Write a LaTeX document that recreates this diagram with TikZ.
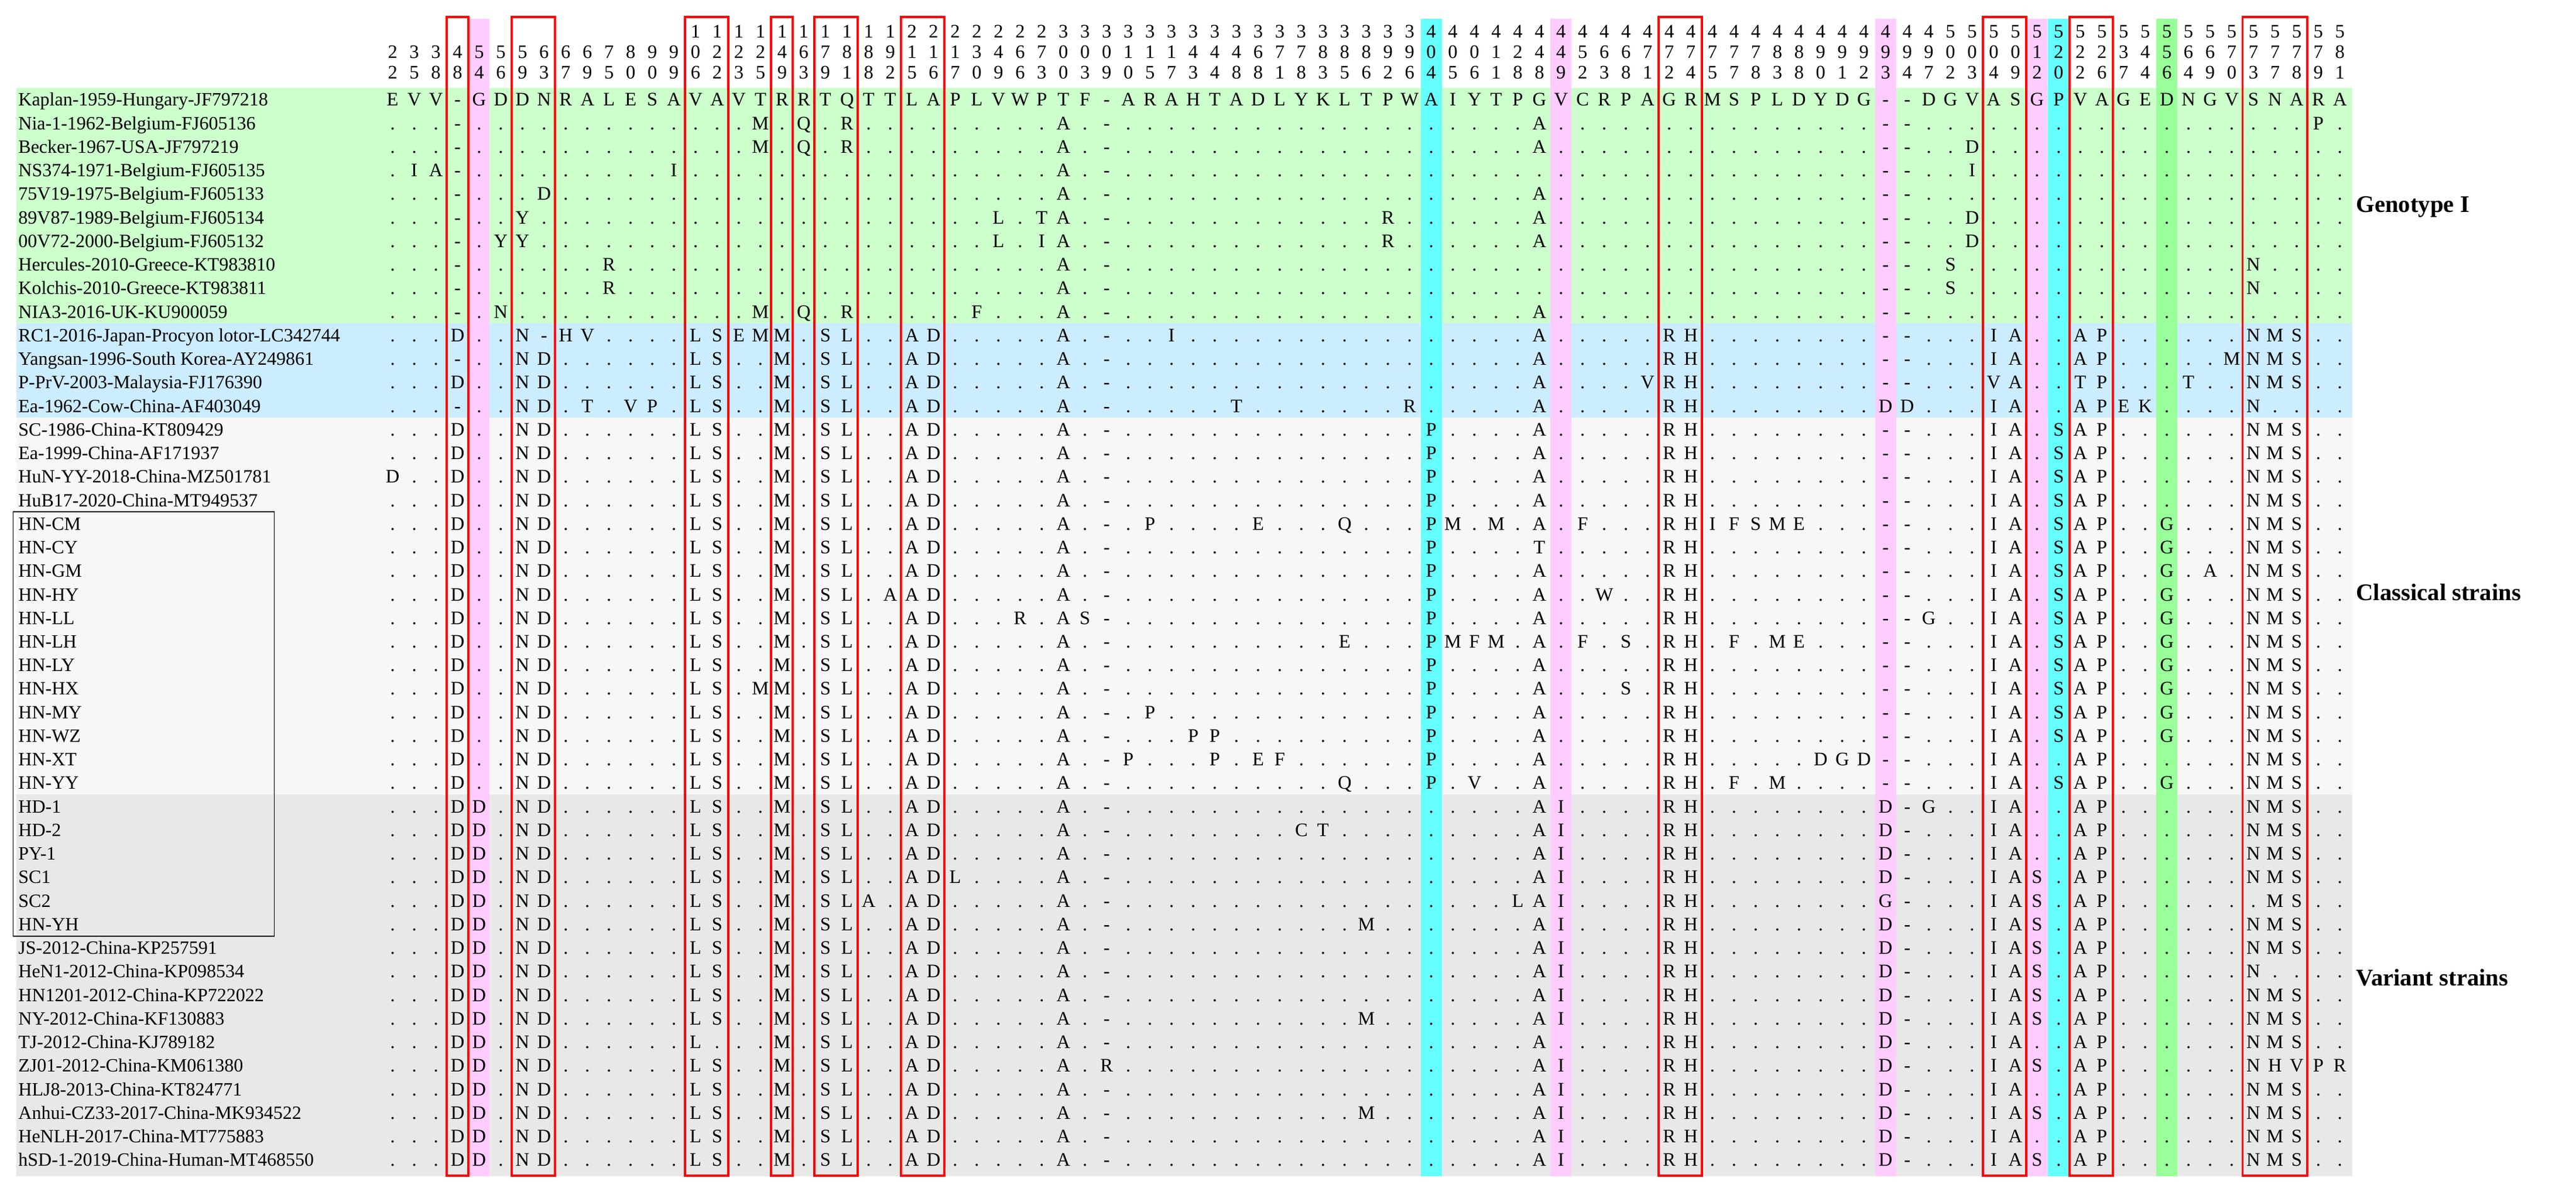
\documentclass[tikz,border=0pt]{standalone}
\usepackage{fontspec}
\setmainfont{Liberation Serif}
\definecolor{bgG}{HTML}{CCFFCC}
\definecolor{bgB}{HTML}{CCECFF}
\definecolor{bgL}{HTML}{F7F7F7}
\definecolor{bgD}{HTML}{E8E8E8}
\definecolor{hlP}{HTML}{FFCCFF}
\definecolor{hlC}{HTML}{66FFFF}
\definecolor{hlG}{HTML}{99FF99}
\newcommand\mutset[2]{\foreach \c/\l in {#2}{\expandafter\xdef\csname mut@#1@\c\endcsname{\l}}}
\newcommand\mutsetm[2]{\foreach \c/\l in #2{\expandafter\xdef\csname mut@#1@\c\endcsname{\l}}}
\newcommand\defchar[1]{\ifnum#1=4 -\else\ifnum#1=34 -\else\ifnum#1=70 -\else\ifnum#1=71 -\else .\fi\fi\fi\fi}
\def\CB{4/D,7/N,8/D,15/L,16/S,19/M,21/S,22/L,25/A,26/D,32/A,49/P,54/A,60/R,61/H,75/I,76/A,78/S,79/A,80/P,87/N,88/M,89/S}
\def\VB{4/D,5/D,7/N,8/D,15/L,16/S,19/M,21/S,22/L,25/A,26/D,32/A,54/A,55/I,60/R,61/H,70/D,75/I,76/A,79/A,80/P,87/N,88/M,89/S}
\foreach \l [count=\c] in {E,V,V,-,G,D,D,N,R,A,L,E,S,A,V,A,V,T,R,R,T,Q,T,T,L,A,P,L,V,W,P,T,F,-,A,R,A,H,T,A,D,L,Y,K,L,T,P,W,A,I,Y,T,P,G,V,C,R,P,A,G,R,M,S,P,L,D,Y,D,G,-,-,D,G,V,A,S,G,P,V,A,G,E,D,N,G,V,S,N,A,R,A}{\expandafter\xdef\csname mut@1@\c\endcsname{\l}}
\mutset{2}{18/M,20/Q,22/R,32/A,54/A,90/P}
\mutset{3}{18/M,20/Q,22/R,32/A,54/A,74/D}
\mutset{4}{2/I,3/A,14/I,32/A,74/I}
\mutset{5}{8/D,32/A,54/A}
\mutset{6}{7/Y,29/L,31/T,32/A,47/R,54/A,74/D}
\mutset{7}{6/Y,7/Y,29/L,31/I,32/A,47/R,54/A,74/D}
\mutset{8}{11/R,32/A,73/S,87/N}
\mutset{9}{11/R,32/A,73/S,87/N}
\mutset{10}{6/N,18/M,20/Q,22/R,28/F,32/A,54/A}
\mutset{11}{4/D,7/N,8/-,9/H,10/V,15/L,16/S,17/E,18/M,19/M,21/S,22/L,25/A,26/D,32/A,37/I,54/A,60/R,61/H,75/I,76/A,79/A,80/P,87/N,88/M,89/S}
\mutset{12}{7/N,8/D,15/L,16/S,19/M,21/S,22/L,25/A,26/D,32/A,54/A,60/R,61/H,75/I,76/A,79/A,80/P,86/M,87/N,88/M,89/S}
\mutset{13}{4/D,7/N,8/D,15/L,16/S,19/M,21/S,22/L,25/A,26/D,32/A,54/A,59/V,60/R,61/H,75/V,76/A,79/T,80/P,84/T,87/N,88/M,89/S}
\mutset{14}{7/N,8/D,10/T,12/V,13/P,15/L,16/S,19/M,21/S,22/L,25/A,26/D,32/A,40/T,48/R,54/A,60/R,61/H,70/D,71/D,75/I,76/A,79/A,80/P,81/E,82/K,87/N}
\foreach \r in {15,...,30}{\mutsetm{\r}\CB}
\mutset{17}{1/D}
\mutset{19}{36/P,41/E,45/Q,50/M,52/M,56/F,62/I,63/F,64/S,65/M,66/E,83/G}
\mutset{20}{54/T,83/G}
\mutset{21}{83/G,85/A}
\mutset{22}{24/A,57/W,83/G}
\mutset{23}{30/R,33/S,72/G,83/G}
\mutset{24}{45/E,50/M,51/F,52/M,56/F,58/S,63/F,65/M,66/E,83/G}
\mutset{25}{83/G}
\mutset{26}{18/M,58/S,83/G}
\mutset{27}{36/P,83/G}
\mutset{28}{38/P,39/P,83/G}
\mutset{29}{35/P,39/P,41/E,42/F,67/D,68/G,69/D,78/.}
\mutset{30}{45/Q,51/V,63/F,65/M,83/G}
\foreach \r in {31,...,46}{\mutsetm{\r}\VB}
\mutset{31}{72/G}
\mutset{32}{43/C,44/T}
\mutset{34}{27/L,77/S}
\mutset{35}{23/A,53/L,70/G,77/S,87/.}
\mutset{36}{46/M,77/S}
\mutset{37}{77/S}
\mutset{38}{77/S,88/.,89/.}
\mutset{39}{77/S}
\mutset{40}{46/M,77/S}
\mutset{41}{16/.,55/.}
\mutset{42}{34/R,77/S,88/H,89/V,90/P,91/R}
\mutset{44}{46/M,77/S}
\mutset{46}{77/S}
\begin{document}
\begin{tikzpicture}[x=1pt,y=-1pt,
  seq/.style={font=\fontsize{11.6}{12}\selectfont,inner sep=0pt,anchor=base},
  nm/.style={font=\fontsize{11.4}{12}\selectfont,inner sep=0pt,anchor=base west},
  grp/.style={font=\fontsize{14.5}{15}\selectfont\bfseries,inner sep=0pt,anchor=west},
  redbox/.style={draw=red,line width=1.4pt}]
\useasboundingbox (0,0) rectangle (1568,727);
\fill[white] (0,0) rectangle (1568,727);
% row bands
\fill[bgG] (10,53.5) rectangle (1432,196.8);
\fill[bgB] (10,196.8) rectangle (1432,254.2);
\fill[bgL] (10,254.2) rectangle (1432,483.6);
\fill[bgD] (10,483.6) rectangle (1432,716);
% column highlights
\foreach \c/\col in {5/hlP,55/hlP,70/hlP,77/hlP,49/hlC,78/hlC,83/hlG}
  \fill[\col] ({239+(\c-1)*13.17-6.4},11.5) rectangle ({239+(\c-1)*13.17+6.4},716);
% header
\foreach \c/\num in {1/22,2/35,3/38,4/48,5/54,6/56,7/59,8/63,9/67,10/69,11/75,12/80,13/90,14/99,15/106,16/122,17/123,18/125,19/149,20/163,21/179,22/181,23/188,24/192,25/215,26/216,27/217,28/230,29/249,30/266,31/273,32/300,33/303,34/309,35/310,36/315,37/317,38/343,39/344,40/348,41/368,42/371,43/378,44/383,45/385,46/386,47/392,48/396,49/404,50/405,51/406,52/411,53/428,54/448,55/449,56/452,57/463,58/468,59/471,60/472,61/474,62/475,63/477,64/478,65/483,66/488,67/490,68/491,69/492,70/493,71/494,72/497,73/502,74/503,75/504,76/509,77/512,78/520,79/522,80/526,81/537,82/544,83/556,84/564,85/569,86/570,87/573,88/577,89/578,90/579,91/581}{
  \pgfmathtruncatemacro\h{\num/100}
  \pgfmathtruncatemacro\t{floor((\num-100*\h)/10)}
  \pgfmathtruncatemacro\u{\num-100*\h-10*\t}
  \ifnum\h>0 \node[seq] (h1-\c) at ({239+(\c-1)*13.17},23) {\h};\fi
  \node[seq] (h2-\c) at ({239+(\c-1)*13.17},35.5) {\t};
  \node[seq] (h3-\c) at ({239+(\c-1)*13.17},48) {\u};
}
% names
\foreach \r/\nm in {1/Kaplan-1959-Hungary-JF797218,2/Nia-1-1962-Belgium-FJ605136,3/Becker-1967-USA-JF797219,4/NS374-1971-Belgium-FJ605135,5/75V19-1975-Belgium-FJ605133,6/89V87-1989-Belgium-FJ605134,7/00V72-2000-Belgium-FJ605132,8/Hercules-2010-Greece-KT983810,9/Kolchis-2010-Greece-KT983811,10/NIA3-2016-UK-KU900059,11/{RC1-2016-Japan-Procyon lotor-LC342744},12/{Yangsan-1996-South Korea-AY249861},13/P-PrV-2003-Malaysia-FJ176390,14/Ea-1962-Cow-China-AF403049,15/SC-1986-China-KT809429,16/Ea-1999-China-AF171937,17/HuN-YY-2018-China-MZ501781,18/HuB17-2020-China-MT949537,19/HN-CM,20/HN-CY,21/HN-GM,22/HN-HY,23/HN-LL,24/HN-LH,25/HN-LY,26/HN-HX,27/HN-MY,28/HN-WZ,29/HN-XT,30/HN-YY,31/HD-1,32/HD-2,33/PY-1,34/SC1,35/SC2,36/HN-YH,37/JS-2012-China-KP257591,38/HeN1-2012-China-KP098534,39/HN1201-2012-China-KP722022,40/NY-2012-China-KF130883,41/TJ-2012-China-KJ789182,42/ZJ01-2012-China-KM061380,43/HLJ8-2013-China-KT824771,44/Anhui-CZ33-2017-China-MK934522,45/HeNLH-2017-China-MT775883,46/hSD-1-2019-China-Human-MT468550}
  \node[nm] (n\r) at (11,{64.5+(\r-1)*14.34}) {\nm};
\draw[black,line width=0.6pt] (8,311.5) rectangle (167,569.7);
% sequences
\foreach \r in {1,...,46}{
  \foreach \c in {1,...,91}{
    \node[seq] (s\r-\c) at ({239+(\c-1)*13.17},{64.5+(\r-1)*14.34})
      {\ifcsname mut@\r @\c\endcsname\csname mut@\r @\c\endcsname\else\defchar{\c}\fi};
  }
}
% red boxes
\foreach \a/\b in {4/4,7/8,15/16,19/19,21/22,25/26,60/61,75/76,79/80,87/89}
  \draw[redbox] ({239+(\a-1)*13.17-6.6},10.5) rectangle ({239+(\b-1)*13.17+6.6},715.6);
% group labels
\node[grp] (g1) at (1434,126) {Genotype I};
\node[grp] (g2) at (1434,360.6) {Classical strains};
\node[grp] (g3) at (1434,595) {Variant strains};
\end{tikzpicture}
\end{document}
